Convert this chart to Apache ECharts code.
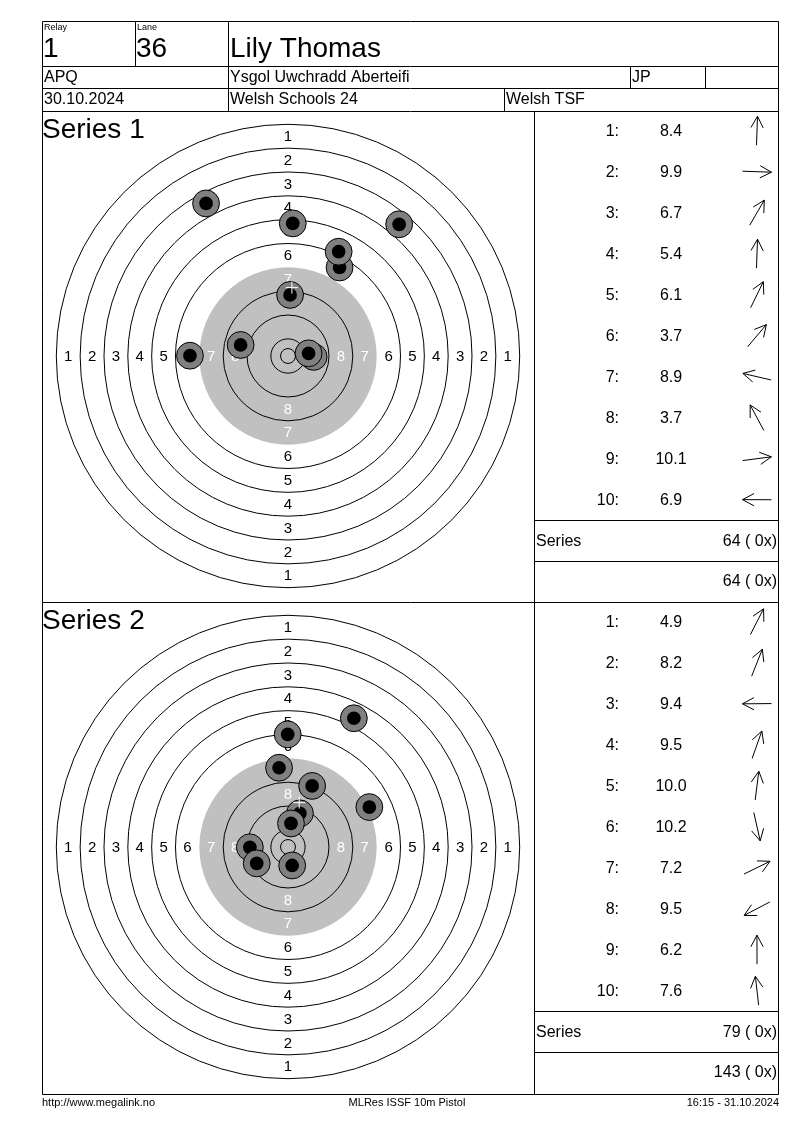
<!DOCTYPE html>
<html>
<head>
<meta charset="utf-8">
<script src="https://cdn.jsdelivr.net/npm/echarts@6/dist/echarts.min.js"></script>
<style>
html,body{margin:0;padding:0;background:#fff;}
#chart{width:800px;height:1130px;}
</style>
</head>
<body>
<div id="chart"></div>
<script>
// ---------- data ----------
const relay = '1';
const lane = '36';
const shooterName = 'Lily Thomas';
const shooterClass = 'APQ';
const clubName = 'Ysgol Uwchradd Aberteifi';
const extraField = 'JP';
const matchDate = '30.10.2024';
const eventName = 'Welsh Schools 24';
const organiser = 'Welsh TSF';
const footerLeft = 'http://www.megalink.no';
const footerMid = 'MLRes ISSF 10m Pistol';
const footerRight = '16:15 - 31.10.2024';
const seriesTitles = ['Series 1', 'Series 2'];

// ISSF 10m pistol target ring radii (mm): rings 1..10 and inner ten
const ringRadii = [77.75, 69.75, 61.75, 53.75, 45.75, 37.75, 29.75, 21.75, 13.75, 5.75, 2.5];
const aimingRadius = 29.75;          // grey aiming area (ring 7)
const ringLabelNums = [1, 2, 3, 4, 5, 6, 7, 8];

// shot positions (mm from centre, y up)
const shots1X = [0.7, 8.6, 17.3, 1.6, 17.0, 37.3, -15.9, -27.5, 6.9, -32.9];
const shots1Y = [20.5, -0.3, 29.7, 44.5, 35.0, 44.2, 3.7, 51.2, 0.9, 0.1];
const scores1 = [8.4, 9.9, 6.7, 5.4, 6.1, 3.7, 8.9, 3.7, 10.1, 6.9];

const shots2X = [22.1, 8.1, -12.8, 4.0, 1.0, 1.4, 27.3, -10.5, -0.1, -3.0];
const shots2Y = [43.2, 20.5, -0.1, 11.3, 7.9, -6.2, 13.4, -5.5, 37.8, 26.6];
const scores2 = [4.9, 8.2, 9.4, 9.5, 10.0, 10.2, 7.2, 9.5, 6.2, 7.6];

// ---------- layout / style ----------
const FONT = "'Liberation Sans', Arial, sans-serif";
const PX_PER_MM = 2.98;
const AXIS_HALF = 80;
const targetCentres = [[288, 356], [288, 847]];
const SHOT_R = 4.5, SHOT_CORE_R = 2.3, MPI_ARM = 2.0;

const chart = echarts.init(document.getElementById('chart'), null, {renderer: 'canvas'});

const gridSize = 2 * AXIS_HALF * PX_PER_MM;
const grids = targetCentres.map(c => ({
  left: c[0] - gridSize / 2, top: c[1] - gridSize / 2,
  width: gridSize, height: gridSize, show: false
}));
const xAxes = grids.map((g, i) => ({gridIndex: i, type: 'value', min: -AXIS_HALF, max: AXIS_HALF, show: false}));
const yAxes = grids.map((g, i) => ({gridIndex: i, type: 'value', min: -AXIS_HALF, max: AXIS_HALF, show: false}));

function ringLabelData() {
  const out = [];
  ringLabelNums.forEach(n => {
    const mid = (ringRadii[n - 1] + ringRadii[n]) / 2;
    out.push([0, mid, n], [0, -mid, n], [-mid, 0, n], [mid, 0, n]);
  });
  return out;
}

function targetSeries(idx, xs, ys) {
  const base = {coordinateSystem: 'cartesian2d', xAxisIndex: idx, yAxisIndex: idx, silent: true, clip: false, animation: false};
  const meanX = xs.reduce((a, b) => a + b, 0) / xs.length;
  const meanY = ys.reduce((a, b) => a + b, 0) / ys.length;
  return [
    Object.assign({}, base, {
      type: 'custom', z: 1,
      data: [[0, 0, aimingRadius]],
      encode: {x: 0, y: 1},
      renderItem: (p, api) => {
        const c = api.coord([0, 0]);
        const r = api.size([api.value(2), 0])[0];
        return {type: 'circle', shape: {cx: c[0], cy: c[1], r: r}, style: {fill: '#c0c0c0', stroke: null}};
      }
    }),
    Object.assign({}, base, {
      type: 'custom', z: 2,
      data: ringRadii.filter(r => r !== aimingRadius).map(r => [0, 0, r]),
      encode: {x: 0, y: 1},
      renderItem: (p, api) => {
        const c = api.coord([0, 0]);
        const r = api.size([api.value(2), 0])[0];
        return {type: 'circle', shape: {cx: c[0], cy: c[1], r: r}, style: {fill: null, stroke: '#000', lineWidth: 1}};
      }
    }),
    Object.assign({}, base, {
      type: 'custom', z: 3,
      data: ringLabelData(),
      encode: {x: 0, y: 1},
      renderItem: (p, api) => {
        const c = api.coord([api.value(0), api.value(1)]);
        const n = api.value(2);
        return {type: 'text', x: c[0], y: c[1] + 0.5, style: {
          text: String(n), font: '15px ' + FONT,
          fill: n >= 7 ? '#ffffff' : '#000000',
          align: 'center', verticalAlign: 'middle', textAlign: 'center', textVerticalAlign: 'middle'
        }};
      }
    }),
    Object.assign({}, base, {
      type: 'custom', z: 4,
      data: xs.map((x, i) => [x, ys[i]]),
      encode: {x: 0, y: 1},
      renderItem: (p, api) => {
        const c = api.coord([api.value(0), api.value(1)]);
        const ro = api.size([SHOT_R, 0])[0];
        const ri = api.size([SHOT_CORE_R, 0])[0];
        return {type: 'group', children: [
          {type: 'circle', shape: {cx: c[0], cy: c[1], r: ro}, style: {fill: '#808080', stroke: '#000', lineWidth: 1}},
          {type: 'circle', shape: {cx: c[0], cy: c[1], r: ri}, style: {fill: '#000', stroke: null}}
        ]};
      }
    }),
    Object.assign({}, base, {
      type: 'custom', z: 5,
      data: [[meanX, meanY]],
      encode: {x: 0, y: 1},
      renderItem: (p, api) => {
        const c = api.coord([api.value(0), api.value(1)]);
        const a = api.size([MPI_ARM, 0])[0];
        return {type: 'group', children: [
          {type: 'line', shape: {x1: c[0] - a, y1: c[1], x2: c[0] + a, y2: c[1]}, style: {stroke: '#fff', lineWidth: 1}},
          {type: 'line', shape: {x1: c[0], y1: c[1] - a, x2: c[0], y2: c[1] + a}, style: {stroke: '#fff', lineWidth: 1}}
        ]};
      }
    })
  ];
}

// ---------- graphic (frame, table, texts) ----------
const G = [];
function line(x1, y1, x2, y2) {
  G.push({type: 'line', silent: true, z: 20, shape: {x1, y1, x2, y2}, style: {stroke: '#000', lineWidth: 1}});
}
function txt(x, y, text, size, align) {
  G.push({type: 'text', silent: true, z: 21, x: x, y: y, style: {
    text: text, font: size + 'px ' + FONT, fill: '#000',
    align: align || 'left', verticalAlign: 'middle',
    textAlign: align || 'left', textVerticalAlign: 'middle'
  }});
}
function arrow(cx, cy, ang) {
  const L = 29, H = 13, S = 28 * Math.PI / 180;
  const ux = Math.cos(ang), uy = -Math.sin(ang);
  const tx = cx + ux * L / 2, ty = cy + uy * L / 2;
  const bx = cx - ux * L / 2, by = cy - uy * L / 2;
  const h1x = tx - H * (ux * Math.cos(S) - uy * Math.sin(S));
  const h1y = ty - H * (ux * Math.sin(S) + uy * Math.cos(S));
  const h2x = tx - H * (ux * Math.cos(-S) - uy * Math.sin(-S));
  const h2y = ty - H * (ux * Math.sin(-S) + uy * Math.cos(-S));
  G.push({type: 'line', silent: true, z: 20, shape: {x1: bx, y1: by, x2: tx, y2: ty}, style: {stroke: '#000', lineWidth: 1}});
  G.push({type: 'polyline', silent: true, z: 20, shape: {points: [[h1x, h1y], [tx, ty], [h2x, h2y]]}, style: {stroke: '#000', fill: null, lineWidth: 1}});
}

const L0 = 42.5, R0 = 778.5, MID = 534.5;
// header frame
line(L0, 21.5, R0, 21.5);
line(L0, 66.5, R0, 66.5);
line(L0, 88.5, R0, 88.5);
line(L0, 111.5, R0, 111.5);
line(L0, 602.5, R0, 602.5);
line(L0, 1094.5, R0, 1094.5);
line(L0, 21.5, L0, 1094.5);
line(R0, 21.5, R0, 1094.5);
line(135.5, 21.5, 135.5, 66.5);
line(228.5, 21.5, 228.5, 111.5);
line(630.5, 66.5, 630.5, 88.5);
line(705.5, 66.5, 705.5, 88.5);
line(504.5, 88.5, 504.5, 111.5);
line(MID, 111.5, MID, 1094.5);

txt(44, 27.5, 'Relay', 9);
txt(137, 27.5, 'Lane', 9);
txt(43, 49, relay, 28);
txt(136, 49, lane, 28);
txt(230, 49.5, shooterName, 28);
txt(44, 77.5, shooterClass, 16);
txt(230, 77.5, clubName, 16);
txt(632, 77.5, extraField, 16);
txt(44, 100, matchDate, 16);
txt(230, 100, eventName, 16);
txt(506, 100, organiser, 16);

const allScores = [scores1, scores2];
const allX = [shots1X, shots2X];
const allY = [shots1Y, shots2Y];
let grand = 0, grandX = 0;
[0, 1].forEach(k => {
  const off = k * 491;
  txt(42, 130 + off, seriesTitles[k], 28);
  const sc = allScores[k];
  sc.forEach((s, i) => {
    const y = 131.2 + off + 41 * i;
    txt(619, y, (i + 1) + ':', 16, 'right');
    txt(671, y, s.toFixed(1), 16, 'center');
    arrow(757, y - 0.5, Math.atan2(allY[k][i], allX[k][i]));
  });
  const sum = sc.reduce((a, b) => a + Math.floor(b), 0);
  const xs = sc.filter(s => s >= 10.4).length;
  grand += sum; grandX += xs;
  line(MID, 520.5 + off, R0, 520.5 + off);
  line(MID, 561.5 + off, R0, 561.5 + off);
  txt(536, 541.5 + off, 'Series', 16);
  txt(777, 541.5 + off, sum + ' ( ' + xs + 'x)', 16, 'right');
  const cum = k === 0 ? sum : grand;
  const cumX = k === 0 ? xs : grandX;
  txt(777, 581.5 + off, cum + ' ( ' + cumX + 'x)', 16, 'right');
});

txt(42, 1103, footerLeft, 11);
txt(407, 1103, footerMid, 11, 'center');
txt(779, 1103, footerRight, 11, 'right');

const option = {
  animation: false,
  backgroundColor: '#ffffff',
  grid: grids,
  xAxis: xAxes,
  yAxis: yAxes,
  series: [].concat(targetSeries(0, shots1X, shots1Y), targetSeries(1, shots2X, shots2Y)),
  graphic: {elements: G}
};
chart.setOption(option);
</script>
</body>
</html>
